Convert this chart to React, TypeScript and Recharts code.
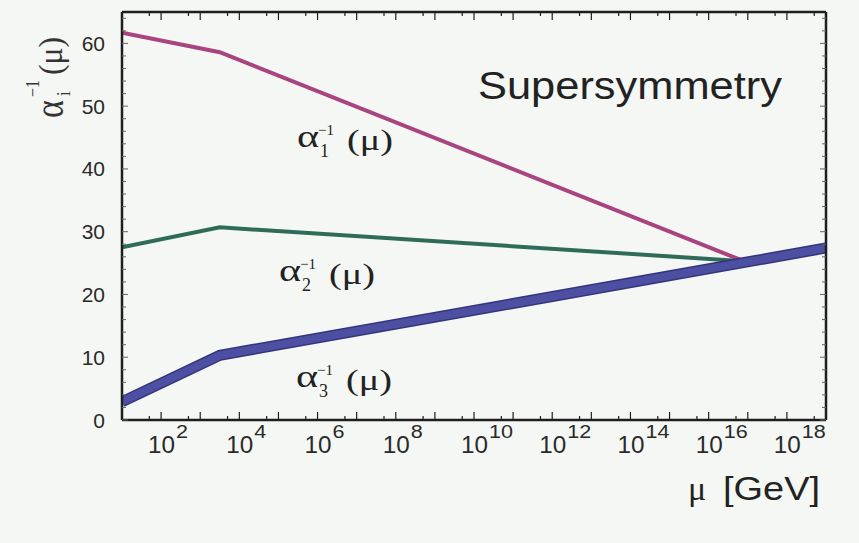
import { LineChart, Line, XAxis, YAxis } from "recharts";

// inverse couplings vs log10(mu / GeV)
const alpha1Mu = [1, 3.5, 16.9];
const alpha1Inv = [61.7, 58.6, 25.3];
const alpha2Mu = [1, 3.5, 16.9];
const alpha2Inv = [27.5, 30.7, 25.3];
const alpha3Mu = [1, 3.5, 19];
const alpha3Inv = [2.9, 10.3, 27.4];

const decades = [1, 2, 3, 4, 5, 6, 7, 8, 9, 10, 11, 12, 13, 14, 15, 16, 17, 18, 19];
const labelledDecades = [2, 4, 6, 8, 10, 12, 14, 16, 18];
const yTicks = [
  0, 2, 4, 6, 8, 10, 12, 14, 16, 18, 20, 22, 24, 26, 28, 30, 32, 34, 36, 38, 40, 42, 44, 46,
  48, 50, 52, 54, 56, 58, 60, 62, 64,
];
const yLabels = [0, 10, 20, 30, 40, 50, 60];

const xTicks = [...decades, ...decades.slice(0, -1).map((d) => d + Math.log10(5))].sort(
  (a, b) => a - b
);

const toPoints = (mu: number[], inv: number[]) => mu.map((m, i) => ({ mu: m, v: inv[i] }));
const pts1 = toPoints(alpha1Mu, alpha1Inv);
const pts2 = toPoints(alpha2Mu, alpha2Inv);
const pts3 = toPoints(alpha3Mu, alpha3Inv);

const BG = "#f4f7f3";
const INK = "#1e1e1e";
const SANS = "'Liberation Sans', Arial, sans-serif";
const SERIF = "'Liberation Serif', 'Times New Roman', serif";

const isMajor = (v: number) => Math.abs(v - Math.round(v)) < 1e-6;

function BottomTick({ x, y, payload }: any) {
  const v = payload.value;
  const major = isMajor(v);
  const show = major && labelledDecades.includes(Math.round(v));
  return (
    <g>
      <line x1={x} y1={y} x2={x} y2={y - (major ? 8 : 4)} stroke={INK} strokeWidth={1.2} />
      {show && (
        <text
          x={x - 13}
          y={y + 33}
          fontSize={23}
          fill="#2a2a2a"
          fontFamily={SANS}
          textLength={27}
          lengthAdjust="spacingAndGlyphs"
        >
          10
        </text>
      )}
      {show && (
        <text
          x={x + 15}
          y={y + 18}
          fontSize={18}
          fill="#2a2a2a"
          fontFamily={SANS}
          textLength={Math.round(v) >= 10 ? 24 : 12}
          lengthAdjust="spacingAndGlyphs"
        >
          {Math.round(v)}
        </text>
      )}
    </g>
  );
}

function TopTick({ x, y, payload }: any) {
  const major = isMajor(payload.value);
  return <line x1={x} y1={y} x2={x} y2={y + (major ? 8 : 4)} stroke={INK} strokeWidth={1.2} />;
}

function LeftTick({ x, y, payload }: any) {
  const v = payload.value;
  const show = yLabels.includes(v);
  return (
    <g>
      <line x1={x} y1={y} x2={x + (show ? 6 : 4)} y2={y} stroke="#666" strokeWidth={1} />
      {show && (
        <text
          x={x - 17}
          y={y + 7.5}
          textAnchor="end"
          fontSize={21}
          fill="#2a2a2a"
          fontFamily={SANS}
        >
          {v}
        </text>
      )}
    </g>
  );
}

function RightTick({ x, y, payload }: any) {
  const show = yLabels.includes(payload.value);
  return <line x1={x} y1={y} x2={x - (show ? 6 : 4)} y2={y} stroke="#666" strokeWidth={1} />;
}

function AlphaLabel({ x, y, sub }: { x: number; y: number; sub: string }) {
  return (
    <g fontFamily={SERIF} fill="#222">
      <text x={x} y={y} fontSize={32} textLength={22} lengthAdjust="spacingAndGlyphs">
        α
      </text>
      <text x={x + 23} y={y + 10} fontSize={18}>
        {sub}
      </text>
      <text x={x + 21} y={y - 12} fontSize={15}>
        −1
      </text>
      <text x={x + 50} y={y + 3} fontSize={30} textLength={46} lengthAdjust="spacingAndGlyphs">
        (μ)
      </text>
    </g>
  );
}

export default function App() {
  return (
    <div
      style={{
        position: "absolute",
        left: 0,
        top: 0,
        width: 859,
        height: 543,
        background: BG,
      }}
    >
      <LineChart
        width={859}
        height={543}
        margin={{ top: 12, right: 33, bottom: 83, left: 62 }}
        style={{ background: BG }}
      >
        <XAxis
          xAxisId="bottom"
          dataKey="mu"
          type="number"
          domain={[1, 19]}
          ticks={xTicks}
          interval={0}
          height={40}
          tickSize={0}
          tickMargin={0}
          tickLine={false}
          tick={BottomTick}
          axisLine={{ stroke: INK, strokeWidth: 2.5 }}
          allowDataOverflow
        />
        <XAxis
          xAxisId="top"
          orientation="top"
          dataKey="mu"
          type="number"
          domain={[1, 19]}
          ticks={xTicks}
          interval={0}
          height={1}
          mirror
          tickSize={0}
          tickMargin={0}
          tickLine={false}
          tick={TopTick}
          axisLine={{ stroke: INK, strokeWidth: 2.5 }}
          allowDataOverflow
        />
        <YAxis
          yAxisId="left"
          type="number"
          domain={[0, 65]}
          ticks={yTicks}
          interval={0}
          width={60}
          tickSize={0}
          tickMargin={0}
          tickLine={false}
          tick={LeftTick}
          axisLine={{ stroke: INK, strokeWidth: 2.5 }}
          allowDataOverflow
        />
        <YAxis
          yAxisId="right"
          orientation="right"
          type="number"
          domain={[0, 65]}
          ticks={yTicks}
          interval={0}
          width={1}
          mirror
          tickSize={0}
          tickMargin={0}
          tickLine={false}
          tick={RightTick}
          axisLine={{ stroke: INK, strokeWidth: 2.5 }}
          allowDataOverflow
        />
        <Line
          data={pts1}
          dataKey="v"
          xAxisId="bottom"
          yAxisId="left"
          type="linear"
          stroke="#a9447f"
          strokeWidth={4}
          dot={false}
          isAnimationActive={false}
        />
        <Line
          data={pts2}
          dataKey="v"
          xAxisId="bottom"
          yAxisId="left"
          type="linear"
          stroke="#2f6b59"
          strokeWidth={4}
          dot={false}
          isAnimationActive={false}
        />
        <Line
          data={pts3}
          dataKey="v"
          xAxisId="bottom"
          yAxisId="left"
          type="linear"
          stroke="#34357a"
          strokeWidth={11}
          dot={false}
          isAnimationActive={false}
        />
        <Line
          data={pts3}
          dataKey="v"
          xAxisId="bottom"
          yAxisId="left"
          type="linear"
          stroke="#4d4fa3"
          strokeWidth={8}
          dot={false}
          isAnimationActive={false}
        />
      </LineChart>
      <svg
        width={859}
        height={543}
        style={{ position: "absolute", left: 0, top: 0, pointerEvents: "none" }}
      >
        <text
          x={478}
          y={99}
          fontSize={38}
          fontFamily={SANS}
          fill="#222"
          textLength={304}
          lengthAdjust="spacingAndGlyphs"
        >
          Supersymmetry
        </text>
        <AlphaLabel x={297} y={147} sub="1" />
        <AlphaLabel x={279} y={281} sub="2" />
        <AlphaLabel x={296} y={387} sub="3" />
        <g transform="translate(63,118) rotate(-90) scale(1,1.15)" fontFamily={SERIF} fill="#333">
          <text x={0} y={0} fontSize={34}>
            α
          </text>
          <text x={22} y={6} fontSize={17}>
            i
          </text>
          <text x={21} y={-21} fontSize={16}>
            −1
          </text>
          <text x={43} y={-1} fontSize={30} textLength={38} lengthAdjust="spacingAndGlyphs">
            (μ)
          </text>
        </g>
        <text x={688} y={500} fontSize={34} fontFamily={SERIF} fill="#222">
          μ
        </text>
        <text
          x={723}
          y={500}
          fontSize={33}
          fontFamily={SANS}
          fill="#222"
          textLength={97}
          lengthAdjust="spacingAndGlyphs"
        >
          [GeV]
        </text>
      </svg>
    </div>
  );
}
